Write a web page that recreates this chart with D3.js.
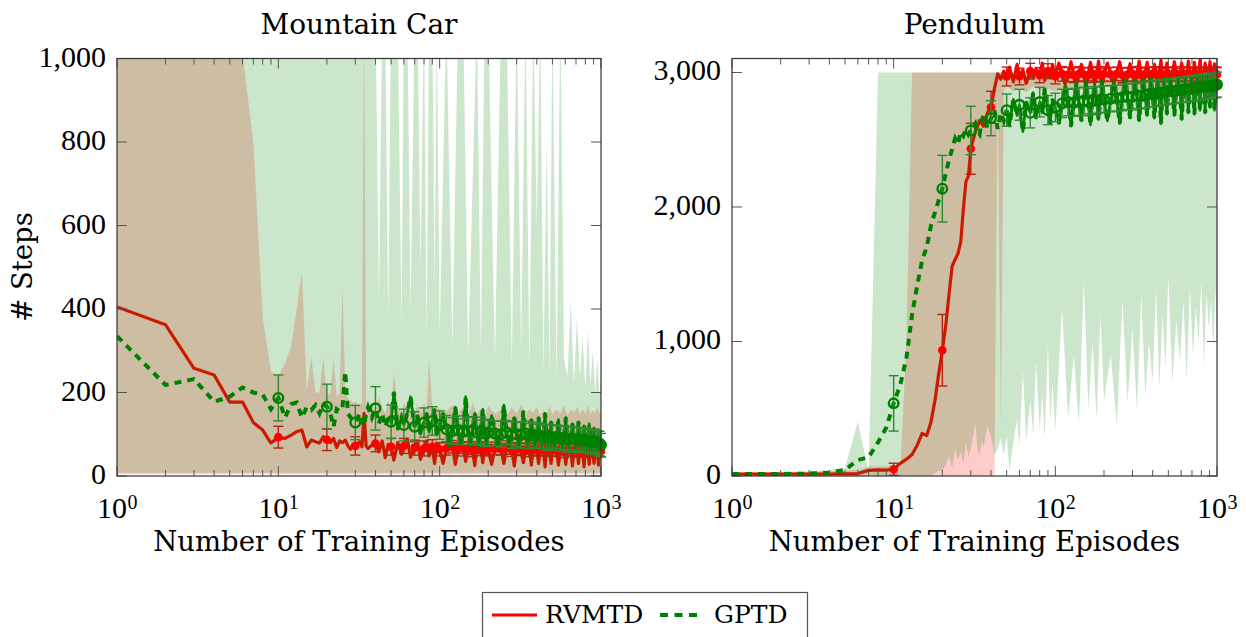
<!DOCTYPE html>
<html><head><meta charset="utf-8">
<script src="https://cdn.jsdelivr.net/npm/d3@7"></script>
<style>body{margin:0;background:#fff}</style>
</head><body>
<svg id="c" width="1246" height="637"></svg>
<script>
// ---------------- DATA ----------------
// episodes at which the shaded bands are sampled
const bandEpisodes = [1,2,3,4,5,6,7,8,9,10, 11,12,13,14,15,16,17,18,19,20, 21,22,23,24,25,26,27,28,29,30,
  32,33,34,35,36,38,40,42,44,46,48,50, 52,55,58,60,63,66,70,73,76,80, 83,86,90,93,96,100,
  110,120,130,140,150,160,170,180,190,200, 220,240,260,280,300,320,340,360,380,400,
  420,440,460,480,500,530,560,590,620,650, 680,710,740,770,800,830,860,890,920,950,980,1000];
// episodes at which the mean curves are sampled
const lineEpisodes = [1,2,3,4,5,6,7,8,9,10, 11,12,13,14,15,16,17,18,19,20, 21,22,23,24,25,26,27,28,29,30,
  32,33,34,35,36,38,40,42,44,46,48,50, 52,55,58,60,63,66,70,73,76,80, 83,86,90,93,96,100,
  105,110,115,120,125,130,135,140,145,150,155,160,165,170,175,180,185,190,195,200,
  210,220,230,240,250,260,270,280,290,300,310,320,330,340,350,360,370,380,390,400,
  410,420,430,440,450,460,470,480,490,500, 515,530,545,560,575,590,605,620,635,650,
  665,680,695,710,725,740,755,770,785,800,815,830,845,860,875,890,905,920,935,950,965,980, 990,1000];
// episodes that carry a marker with an error bar
const markerEpisodes = [10,20,30,40,50,60,70,80,90,100, 110,120,130,140,150,160,170,180,190,200,
  220,240,260,280,300,320,340,360,380,400, 420,440,460,480,500,530,560,590,620,650,
  680,710,740,770,800,830,860,890,920,950,980,1000];

const xTickValues = [1, 10, 100, 1000];
const xTickExponents = ["0", "1", "2", "3"];
const mcYTicks = [0, 200, 400, 600, 800, 1000];
const pdYTicks = [0, 1000, 2000, 3000];
const seriesNames = ["RVMTD", "GPTD"];
const panelTitles = ["Mountain Car", "Pendulum"];

// ---- Mountain Car ----
const mcRedMean = [405,362,258,242,177,177,128,110,79,93, 90,98,106,110,70,86,82,79,94,87, 80,90,68,84,80,86,72,64,76,72,
  82,70,150,72,66,74,78,58,84,44,76,70, 38,80,52,72,88,45,68,82,40,66, 84,48,70,30,78,64,
  30,66,95,70,28,64,90,68,35,66,100,62,25,68,92,64,32,66,88,62,
  28,66,94,64,30,68,90,62,24,66,96,64,32,62,88,66,26,64,92,62,
  30,64,90,62,22,66,94,62,30,64, 92,62,26,64,88,60,28,64,95,62,
  24,62,90,64,30,60,92,62,22,64,88,60,28,62,94,60,30,62,90,58,26,62, 88,60];
const mcGreenMean = [335,218,232,178,190,212,200,195,160,187, 140,172,176,140,165,158,170,150,172,166, 150,118,160,155,165,250,150,140,135,128,
  150,135,120,150,165,140,162,125,150,118,140,130, 200,112,140,122,150,190,118,145,100,128, 150,105,132,160,98,122,
  150,112,70,108,165,110,75,106,190,108,72,110,150,104,68,108,160,102,72,104,
  145,102,68,100,170,104,70,98,140,100,66,98,155,102,70,96,135,98,64,95,
  140,96,66,94,150,92,64,95,130,92, 62,94,135,90,64,92,140,88,60,90,
  125,88,62,86,130,88,60,85,120,86,58,84,125,82,60,84,115,82,58,80,110,78, 60,74];
const mcRedHi = [1100,1100,1100,1100,1100,1010,800,380,250,240, 270,310,400,489,206,285,200,200,285,190, 200,285,190,200,449,200,185,180,175,178,
  170,175,1100,168,160,175,150,190,165,150,180,160, 246,170,150,175,160,190,155,170,150,175, 160,280,165,150,170,160,
  155,170,150,165,145,175,150,160,145,168, 150,158,145,165,150,172,148,160,152,165,
  145,158,150,168,148,160,150,170,145,158, 152,165,148,160,150,170,148,158,150,165,150,155];
const mcGreenHi = [1100,1100,1100,1100,1100,1100,1100,1100,1100,1100, 1100,1100,1100,1100,1100,1100,1100,1100,1100,1100, 1100,1100,1100,1100,1100,1100,1100,1100,1100,1100,
  1100,1100,1100,1100,1100,1100,1100,420,1100,1100,380,1100, 1100,1100,366,1100,1100,400,1100,1100,500,1100, 333,1100,1100,450,1100,340,
  1100,310,1100,1100,290,700,1100,300,1100,1100, 280,1100,1100,270,1100,300,1100,260,1100,600,
  1100,250,800,240,1100,230,1100,280,240,420, 220,380,240,330,210,350,220,300,200,280,190,250];
const mcLoEpisodes = [1, 1000];
const mcRedLo = [4, 4];
const mcGreenLo = [8, 8];
const mcRedErr = [26,26,22,20,20,18,18,18,17,16, 16,15,16,14,15,16,14,15,16,14, 15,14,16,15,14,15,16,14,15,14,
  15,14,16,15,14,15,14,16,15,14, 15,14,15,16,14,15,14,15,16,14,15,14];
const mcGreenErr = [55,54,41,52,40,38,36,35,34,34, 33,32,34,31,33,32,30,33,31,32, 30,31,29,32,30,31,29,30,31,29,
  30,28,31,29,30,28,30,29,31,28, 29,30,28,29,30,28,29,28,30,28,29,28];

// ---- Pendulum ----
const pdRedMean = [15,15,15,15,16,18,42,45,44,50, 94,125,160,230,317,300,400,560,760,935, 1120,1350,1560,1610,1654,1740,1990,2190,2230,2433,
  2560,2600,2643,2620,2600,2700,2742,2880,2990,2950,3010,2970, 3040,2930,3060,2970,3020,2920,3010,2960,3030,2980, 3070,2940,3010,2960,3060,2970,
  3070,2990,2910,2985,3080,2980,2920,2990,3060,2985,2900,2980,3075,2990,2920,2985,3085,2980,2910,2990,
  3070,2985,2915,2990,3080,2980,2900,2985,3065,2990,2920,2985,3085,2980,2910,2990,3075,2985,2905,2990,
  3060,2985,2920,2990,3090,2980,2910,2985,3070,2990, 2915,2985,3080,2990,2905,2980,3070,2990,2920,2985,
  3085,2990,2910,2985,3075,2980,2920,2990,3090,2985,2905,2990,3070,2985,2915,2990,3080,2980,2910,2985,3065,2990, 2920,2985];
const pdGreenMean = [15,15,18,25,45,119,140,250,360,540, 680,880,1200,1420,1604,1700,1860,1960,2050,2136, 2250,2350,2430,2510,2470,2560,2530,2580,2540,2569,
  2620,2560,2540,2640,2680,2590,2660,2720,2580,2700,2640,2720, 2600,2800,2680,2760,2560,2780,2700,2850,2660,2780, 2700,2880,2720,2620,2800,2740,
  2620,2770,2900,2780,2600,2775,2920,2785,2640,2790,2930,2780,2610,2795,2910,2790,2650,2800,2940,2800,
  2640,2805,2930,2810,2620,2815,2950,2820,2660,2820,2940,2830,2640,2825,2950,2835,2680,2840,2960,2840,
  2660,2845,2950,2850,2620,2850,2960,2855,2690,2860, 2960,2860,2680,2865,2970,2870,2650,2870,2960,2875,
  2700,2880,2970,2880,2690,2885,2975,2890,2720,2890,2980,2895,2700,2895,2970,2900,2740,2900,2980,2905,2720,2905, 2960,2910];
const pdRedHiEpisodes = [1,2,3,4,5,6,7,8,9,10,11,12,13,1000];
const pdRedHi = [30,30,30,35,40,45,70,70,70,80,60,1000,3000,3000];
const pdRedLoEpisodes = [1,42,44,46,48,50,55,60,66,73,80,90,100,120,150,200,260,340,440,560,680,800,920,1000];
const pdRedLo = [2,2,2880,400,2870,2900,2860,2890,2850,2900,2870,2880,2860,2890,2870,2900,2860,2880,2900,2870,2890,2880,2900,2880];
const pdGreenHiEpisodes = [1,2,3,4,5,6,7,8,1000];
const pdGreenHi = [20,25,35,45,60,403,30,3000,3000];
const pdGreenLo = [0,0,0,0,0,0,0,0,0,0, 0,0,0,0,0,0,0,20,40,30, 80,150,60,200,120,180,90,250,140,200,
  390,200,150,260,220,370,300,150,200,280,150,300, 40,250,420,220,780,260,560,300,850,330, 620,280,980,400,700,330,
  1250,420,900,380,1450,500,1000,420,1200,560, 900,380,1300,540,1100,480,1350,600,1000,700,
  1400,650,1200,800,1480,700,1150,850,1300,720, 1400,900,1250,1000,1450,820,1350,1100,1300,950,1400,1000];
const pdRedErr = [45,266,190,118,70,62,58,56,55,55, 54,52,55,53,52,54,52,53,51,53, 52,50,53,52,54,51,52,50,53,52,
  51,53,50,52,51,51,53,50,52,52, 51,52,52,50,53,51,52,52,50,52,51,52];
const pdGreenErr = [206,248,180,130,120,115,112,110,108,106, 105,102,100,104,98,101,99,103,97,100, 98,96,100,95,99,97,94,98,96,95,
  97,94,96,93,95,92,96,94,93,95, 92,94,96,93,95,94,92,95,93,94,92,93];

// ---------------- DRAW ----------------
const RED = "#ff0000", GREEN = "#008000";
const svg = d3.select("#c");
const TOP = 58.5, BOTTOM = 476;
const serif = "'DejaVu Serif', serif";
const numFont = "'Liberation Serif', serif";
const DENSE_FROM = 50; // from here the dashed curve is so dense it reads as solid

function panel(o) {
  const x = d3.scaleLog().domain([1, 1000]).range([o.L, o.R]);
  const y = d3.scaleLinear().domain([0, o.yMax]).range([BOTTOM, TOP]);
  const clipId = "clip" + o.id;
  svg.append("clipPath").attr("id", clipId).append("rect")
    .attr("x", o.L).attr("y", TOP).attr("width", o.R - o.L).attr("height", BOTTOM - TOP);
  const pts = (xs, ys) => xs.map((e, i) => [x(e), y(ys[i])]);
  const line = d3.line();
  const band = (hx, hy, lx, ly) => line(pts(hx, hy).concat(pts(lx, ly).reverse())) + "Z";
  const clipped = () => svg.append("g").attr("clip-path", `url(#${clipId})`);
  const markIdx = markerEpisodes.map(e => lineEpisodes.indexOf(e));

  const errBars = (mean, err, color, w) => {
    const g = svg.append("g").attr("stroke", color).attr("stroke-width", w).attr("fill", "none");
    markIdx.forEach((i, k) => {
      const cx = x(lineEpisodes[i]);
      const y1 = y(mean[i] + err[k]), y0 = y(mean[i] - err[k]);
      g.append("line").attr("x1", cx).attr("x2", cx).attr("y1", y1).attr("y2", y0);
      g.append("line").attr("x1", cx - 5).attr("x2", cx + 5).attr("y1", y1).attr("y2", y1);
      g.append("line").attr("x1", cx - 5).attr("x2", cx + 5).attr("y1", y0).attr("y2", y0);
    });
  };

  // red band + line + error bars
  clipped().append("path").attr("d", band(o.rhX, o.rh, o.rlX, o.rl))
    .attr("fill", RED).attr("fill-opacity", 0.2);
  clipped().append("path").attr("d", line(pts(lineEpisodes, o.rm)))
    .attr("fill", "none").attr("stroke", RED).attr("stroke-width", 3.2).attr("stroke-linejoin", "round");
  errBars(o.rm, o.re, "#e01010", 1.4);
  // green band
  clipped().append("path").attr("d", band(o.ghX, o.gh, o.glX, o.gl))
    .attr("fill", GREEN).attr("fill-opacity", 0.2);
  // red markers
  svg.append("g").selectAll("circle").data(markIdx).join("circle")
    .attr("cx", i => x(lineEpisodes[i])).attr("cy", i => y(o.rm[i])).attr("r", 4.3).attr("fill", RED);
  // green line (dashed), solid where samples are dense
  clipped().append("path").attr("d", line(pts(lineEpisodes, o.gm)))
    .attr("fill", "none").attr("stroke", GREEN).attr("stroke-width", 4).attr("stroke-dasharray", "7,6");
  const denseIdx = lineEpisodes.map((e, i) => i).filter(i => lineEpisodes[i] >= DENSE_FROM);
  clipped().append("path").attr("d", line(denseIdx.map(i => [x(lineEpisodes[i]), y(o.gm[i])])))
    .attr("fill", "none").attr("stroke", GREEN).attr("stroke-width", 2.6).attr("stroke-linejoin", "round");
  errBars(o.gm, o.ge, "#2f8a2f", 1.4);
  svg.append("g").selectAll("circle").data(markIdx).join("circle")
    .attr("cx", i => x(lineEpisodes[i])).attr("cy", i => y(o.gm[i])).attr("r", 4.8)
    .attr("fill", "none").attr("stroke", GREEN).attr("stroke-width", 2.4);

  // frame and ticks
  const ax = svg.append("g").attr("stroke", "#555").attr("stroke-width", 1);
  const minor = [];
  [1, 10, 100].forEach(d => { for (let k = 2; k <= 9; k++) minor.push(k * d); });
  minor.forEach(v => {
    ax.append("line").attr("x1", x(v)).attr("x2", x(v)).attr("y1", BOTTOM).attr("y2", BOTTOM - 6);
    ax.append("line").attr("x1", x(v)).attr("x2", x(v)).attr("y1", TOP).attr("y2", TOP + 6);
  });
  xTickValues.forEach(v => {
    ax.append("line").attr("x1", x(v)).attr("x2", x(v)).attr("y1", BOTTOM).attr("y2", BOTTOM - 10);
    ax.append("line").attr("x1", x(v)).attr("x2", x(v)).attr("y1", TOP).attr("y2", TOP + 10);
  });
  o.yTicks.forEach(v => {
    ax.append("line").attr("x1", o.L).attr("x2", o.L + 10).attr("y1", y(v)).attr("y2", y(v));
    ax.append("line").attr("x1", o.R).attr("x2", o.R - 10).attr("y1", y(v)).attr("y2", y(v));
  });
  svg.append("rect").attr("x", o.L).attr("y", TOP).attr("width", o.R - o.L).attr("height", BOTTOM - TOP)
    .attr("fill", "none").attr("stroke", "#333").attr("stroke-width", 1.2);

  // tick labels
  const fmt = d3.format(",");
  o.yTicks.forEach(v => {
    svg.append("text").attr("x", o.L - 11).attr("y", y(v) + 8).attr("text-anchor", "end")
      .attr("font-family", numFont).attr("font-size", 30).text(fmt(v));
  });
  xTickValues.forEach((v, i) => {
    // base "10" and its exponent as separate texts, so the pair is centred on the tick
    svg.append("text").attr("x", x(v) + 10).attr("y", 517.8).attr("text-anchor", "end")
      .attr("font-family", numFont).attr("font-size", 30).text("10");
    svg.append("text").attr("x", x(v) + 10.5).attr("y", 509).attr("text-anchor", "start")
      .attr("font-family", numFont).attr("font-size", 20).text(xTickExponents[i]);
  });
  // titles & labels
  svg.append("text").attr("x", (o.L + o.R) / 2).attr("y", 34).attr("text-anchor", "middle")
    .attr("font-family", serif).attr("font-size", 28).text(o.title);
  svg.append("text").attr("x", (o.L + o.R) / 2).attr("y", 550.5).attr("text-anchor", "middle")
    .attr("font-family", serif).attr("font-size", 27.5).text("Number of Training Episodes");
}

panel({ id: "mc", L: 117, R: 601, yMax: 1000, yTicks: mcYTicks, title: panelTitles[0],
  rm: mcRedMean, gm: mcGreenMean, re: mcRedErr, ge: mcGreenErr,
  rhX: bandEpisodes, rh: mcRedHi, rlX: mcLoEpisodes, rl: mcRedLo,
  ghX: bandEpisodes, gh: mcGreenHi, glX: mcLoEpisodes, gl: mcGreenLo });
panel({ id: "pd", L: 732, R: 1217, yMax: 3104, yTicks: pdYTicks, title: panelTitles[1],
  rm: pdRedMean, gm: pdGreenMean, re: pdRedErr, ge: pdGreenErr,
  rhX: pdRedHiEpisodes, rh: pdRedHi, rlX: pdRedLoEpisodes, rl: pdRedLo,
  ghX: pdGreenHiEpisodes, gh: pdGreenHi, glX: bandEpisodes, gl: pdGreenLo });

// y label
svg.append("text").attr("transform", "translate(32,267) rotate(-90)").attr("text-anchor", "middle")
  .attr("font-family", serif).attr("font-size", 27.5).text("# Steps");

// legend
const lg = svg.append("g");
lg.append("rect").attr("x", 482.5).attr("y", 592.5).attr("width", 325).attr("height", 70)
  .attr("fill", "#fff").attr("stroke", "#555").attr("stroke-width", 1.2);
lg.append("line").attr("x1", 492).attr("x2", 537).attr("y1", 615).attr("y2", 615)
  .attr("stroke", RED).attr("stroke-width", 3.2);
lg.append("text").attr("x", 545).attr("y", 623).attr("font-family", serif).attr("font-size", 25).text(seriesNames[0]);
lg.append("line").attr("x1", 660).attr("x2", 703).attr("y1", 615).attr("y2", 615)
  .attr("stroke", GREEN).attr("stroke-width", 4).attr("stroke-dasharray", "8,6.5");
lg.append("text").attr("x", 714).attr("y", 623).attr("font-family", serif).attr("font-size", 25).text(seriesNames[1]);
</script>
</body></html>
